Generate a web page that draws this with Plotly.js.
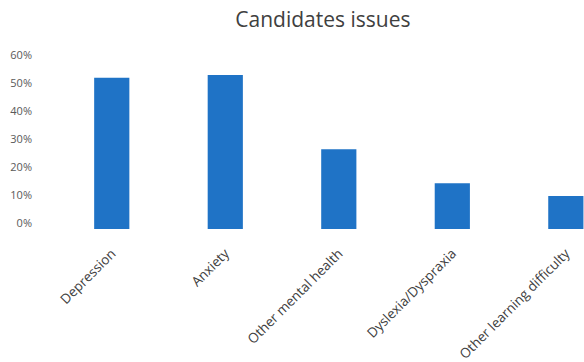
<!DOCTYPE html>
<html>
<head>
<meta charset="utf-8">
<script src="https://cdn.plot.ly/plotly-3.0.1.min.js"></script>
<style>html,body{margin:0;padding:0;background:#fff;}#chart{width:584px;height:362px;}</style>
</head>
<body>
<div id="chart"></div>
<script>
const categories = ["Depression", "Anxiety", "Other mental health", "Dyslexia/Dyspraxia", "Other learning difficulty"];
const values = [0.54, 0.55, 0.285, 0.163, 0.118];
const tickValues = [0, 0.1, 0.2, 0.3, 0.4, 0.5, 0.6];
const tickLabels = ["0%", "10%", "20%", "30%", "40%", "50%", "60%"];

const trace = {
  type: "bar",
  x: categories,
  y: values,
  marker: {color: "#1F73C6"},
  hoverinfo: "none"
};

const layout = {
  width: 584,
  height: 362,
  margin: {l: 55, r: 0, t: 61, b: 133},
  paper_bgcolor: "#ffffff",
  plot_bgcolor: "#ffffff",
  bargap: 0.69,
  showlegend: false,
  title: {
    text: "Candidates issues",
    font: {family: "Open Sans, sans-serif", size: 21, color: "#404040"},
    x: 0.553, xanchor: "center", y: 0.945, yanchor: "middle"
  },
  xaxis: {
    type: "category",
    range: [-0.5, 4.16],
    tickangle: -45,
    showgrid: false,
    showline: false,
    zeroline: false,
    ticks: "",
    ticklabelstandoff: 13,
    tickfont: {family: "Open Sans, sans-serif", size: 13.5, color: "#404040"}
  },
  yaxis: {
    range: [0, 0.6],
    tickvals: tickValues,
    ticktext: tickLabels,
    showgrid: false,
    showline: false,
    zeroline: false,
    ticks: "",
    ticklabelstandoff: 22,
    ticklabelshift: -6,
    tickfont: {family: "Open Sans, sans-serif", size: 11, color: "#595959"}
  }
};

Plotly.newPlot("chart", [trace], layout, {staticPlot: true, displayModeBar: false});
</script>
</body>
</html>
